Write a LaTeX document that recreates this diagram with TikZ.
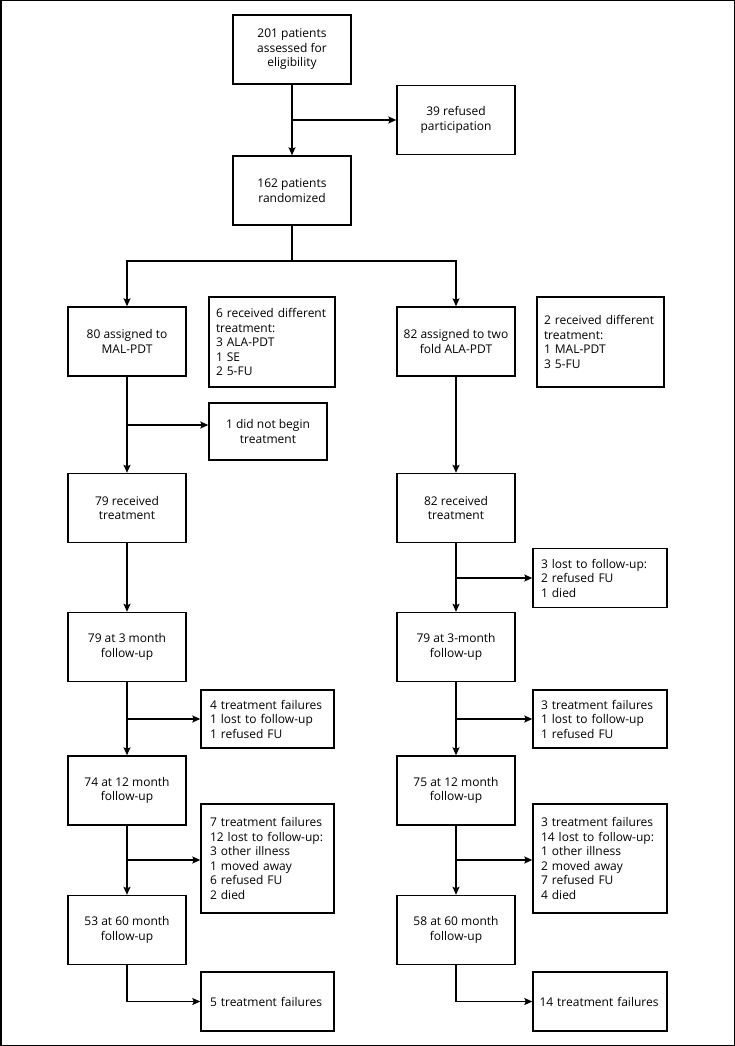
\documentclass[tikz,border=0pt]{standalone}
\usepackage{fontspec}
\setmainfont{Open Sans}
\usepackage{tikz}
\usetikzlibrary{arrows.meta,positioning,calc}
\newcommand{\boxfont}{\fontsize{12}{14.5}\selectfont\hyphenpenalty=10000\relax}

\begin{document}
\begin{tikzpicture}[->,>={Stealth[length=8pt,width=7pt,inset=1.5pt]},x=1pt,y=-1pt,
			line width=1.4pt]
			\tikzstyle{every node}=[font=\boxfont,text=black]
			\tikzstyle{mainbox}=[draw=black,line width=1.4pt,minimum width=118pt,minimum height=69pt,inner sep=0pt,align=center]
			\tikzstyle{sidebox}=[draw=black,line width=1.4pt,inner ysep=0pt,align=left]
			
			\useasboundingbox (0,0) rectangle (735,1046);
			\draw[-,line width=1.5pt] (0.75,0.75) rectangle (734.25,1045.25);
			
			\node[mainbox]    (S1) at (292,49.5)     {201 patients\\assessed for\\eligibility};
			
			\node[mainbox]    (S2) at (456,120)      {39 refused\\participation};
			
			\node[mainbox]    (S3) at (292,190.5)    {162 patients\\randomized};
			
			% MAL-PDT arm
			\node[mainbox]    (L1) at (127,341.5)    {80 assigned to\\MAL-PDT};
			
			\node[sidebox, text width=112pt, inner xsep=7pt, minimum height=90pt]    (LS1) at (272,342)
				{6 received different\\treatment:\\3 ALA-PDT\\1 SE\\2 5-FU};
			
			\node[mainbox, minimum height=57pt]    (LS2) at (268,431.5)    {1 did not begin\\treatment};
			
			\node[mainbox]    (L2) at (127,508)      {79 received\\treatment};
			
			\node[mainbox]    (L3) at (127,647)      {79 at 3 month\\follow-up};
			
			\node[sidebox, text width=115pt, inner xsep=9pt, minimum height=58pt]    (LS3) at (267.5,719)
				{4 treatment failures\\1 lost to follow-up\\1 refused FU};
			
			\node[mainbox]    (L4) at (127,790.5)    {74 at 12 month\\follow-up};
			
			\node[sidebox, text width=115pt, inner xsep=9pt, minimum height=109pt]    (LS4) at (267.5,858.5)
				{7 treatment failures\\12 lost to follow-up:\\3 other illness\\1 moved away\\6 refused FU\\2 died};
			
			\node[mainbox]    (L5) at (127,930)      {53 at 60 month\\follow-up};
			
			\node[sidebox, text width=115pt, inner xsep=9pt, minimum height=59pt]    (LS5) at (267.5,1001.5)
				{5 treatment failures};
			
			% two fold ALA-PDT arm
			\node[mainbox]    (R1) at (456,341.5)    {82 assigned to two\\fold ALA-PDT};
			
			\node[sidebox, text width=113pt, inner xsep=7pt, minimum height=90pt]    (RS1) at (600.5,342)
				{2 received different\\treatment:\\1 MAL-PDT\\3 5-FU};
			
			\node[mainbox]    (R2) at (456,508)      {82 received\\treatment};
			
			\node[sidebox, text width=118pt, inner xsep=8pt, minimum height=59pt]    (RS2) at (600,578)
				{3 lost to follow-up:\\2 refused FU\\1 died};
			
			\node[mainbox]    (R3) at (456,647)      {79 at 3-month\\follow-up};
			
			\node[sidebox, text width=118pt, inner xsep=8pt, minimum height=58pt]    (RS3) at (600,719)
				{3 treatment failures\\1 lost to follow-up\\1 refused FU};
			
			\node[mainbox]    (R4) at (456,790.5)    {75 at 12 month\\follow-up};
			
			\node[sidebox, text width=118pt, inner xsep=8pt, minimum height=109pt]    (RS4) at (600,858.5)
				{3 treatment failures\\14 lost to follow-up:\\1 other illness\\2 moved away\\7 refused FU\\4 died};
			
			\node[mainbox]    (R5) at (456,930)      {58 at 60 month\\follow-up};
			
			\node[sidebox, text width=121pt, inner xsep=6.5pt, minimum height=59pt]    (RS5) at (600,1001.5)
				{14 treatment failures};
			
			% junctions
			\coordinate (J1) at (S1.south |- S2.west);
			\coordinate (J2) at (292,261);
			\coordinate (J3) at (127,425);
			\coordinate (J4) at (L3.south |- LS3.west);
			\coordinate (J5) at (127,860);
			\coordinate (J6) at (R2.south |- RS2.west);
			\coordinate (J7) at (R3.south |- RS3.west);
			\coordinate (J8) at (456,860);
			
			\path
			
			(S1) edge (S3)
			
			(J1) edge (S2)
			
			(L1) edge (L2)
			
			(J3) edge (LS2.west |- J3)
			
			(L2) edge (L3)
			
			(L3) edge (L4)
			
			(J4) edge (LS3)
			
			(L4) edge (L5)
			
			(J5) edge (LS4.west |- J5)
			
			(R1) edge (R2)
			
			(R2) edge (R3)
			
			(J6) edge (RS2)
			
			(R3) edge (R4)
			
			(J7) edge (RS3)
			
			(R4) edge (R5)
			
			(J8) edge (RS4.west |- J8);
			
			\draw[-] (S3.south) -- (J2);
			\draw (J2) -| (L1.north);
			\draw (J2) -| (R1.north);
			\draw (L5.south) |- (LS5.west);
			\draw (R5.south) |- (RS5.west);
			
			\end{tikzpicture}
\end{document}
